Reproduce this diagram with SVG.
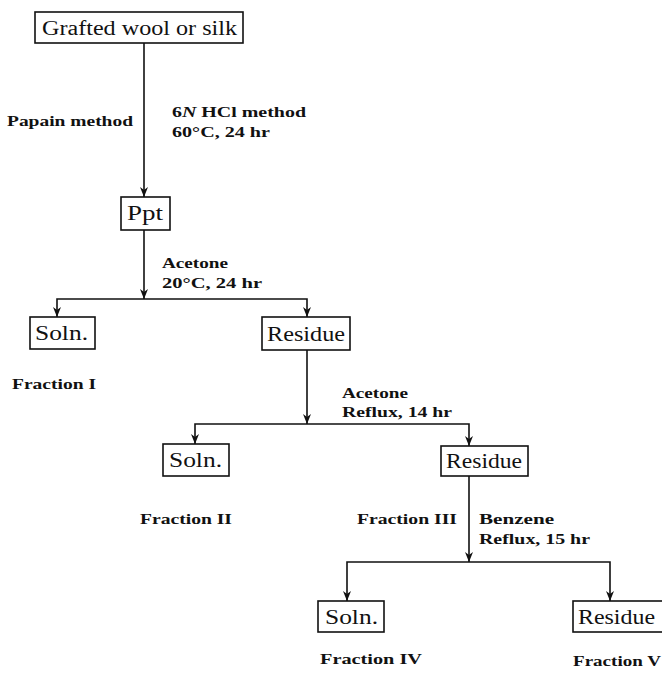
<svg xmlns="http://www.w3.org/2000/svg" width="662" height="679" viewBox="0 0 662 679">
<defs>
<marker id="ah" viewBox="0 0 10 10" refX="10" refY="5" markerWidth="10" markerHeight="10" markerUnits="userSpaceOnUse" orient="auto">
<path d="M0,1 L10,5 L0,9 L3,5 Z" fill="#111"/>
</marker>
<style>
.box{fill:#fff;stroke:#111;stroke-width:1.6}
.bt{font-family:"Liberation Serif","Times New Roman",serif;font-size:20px;fill:#111}
.lb{font-family:"Liberation Serif","Times New Roman",serif;font-size:14px;font-weight:bold;fill:#111}
.ln{fill:none;stroke:#111;stroke-width:1.6}
.ar{fill:none;stroke:#111;stroke-width:1.6;marker-end:url(#ah)}
</style>
</defs>
<rect width="662" height="679" fill="#fff"/>
<g id="connectors">
<line class="ar" x1="144" y1="43" x2="144" y2="197"/>
<line class="ar" x1="144" y1="230" x2="144" y2="299"/>
<polyline class="ar" points="144,299 57,299 57,317"/>
<polyline class="ar" points="144,299 307,299 307,317"/>
<line class="ar" x1="307" y1="350" x2="307" y2="424"/>
<polyline class="ar" points="307,424 195,424 195,444"/>
<polyline class="ar" points="307,424 469,424 469,446"/>
<line class="ar" x1="469" y1="476" x2="469" y2="562"/>
<polyline class="ar" points="469,562 347,562 347,601"/>
<polyline class="ar" points="469,562 610,562 610,601"/>
</g>
<g id="n-start"><rect class="box" x="35" y="12" width="208" height="31"/><text class="bt" x="42" y="35" textLength="195" lengthAdjust="spacingAndGlyphs">Grafted wool or silk</text></g>
<g id="n-ppt"><rect class="box" x="121" y="197" width="49" height="33"/><text class="bt" x="127" y="220" textLength="36" lengthAdjust="spacingAndGlyphs">Ppt</text></g>
<g id="n-soln1"><rect class="box" x="30" y="317" width="65" height="32"/><text class="bt" x="35" y="340" textLength="53" lengthAdjust="spacingAndGlyphs">Soln.</text></g>
<g id="n-res1"><rect class="box" x="262" y="317" width="88" height="33"/><text class="bt" x="267" y="341" textLength="78" lengthAdjust="spacingAndGlyphs">Residue</text></g>
<g id="n-soln2"><rect class="box" x="163" y="444" width="66" height="32"/><text class="bt" x="169" y="467" textLength="53" lengthAdjust="spacingAndGlyphs">Soln.</text></g>
<g id="n-res2"><rect class="box" x="441" y="446" width="87" height="30"/><text class="bt" x="446" y="468" textLength="76" lengthAdjust="spacingAndGlyphs">Residue</text></g>
<g id="n-soln3"><rect class="box" x="318" y="601" width="66" height="31"/><text class="bt" x="325" y="624" textLength="53" lengthAdjust="spacingAndGlyphs">Soln.</text></g>
<g id="n-res3"><rect class="box" x="573" y="601" width="95" height="31"/><text class="bt" x="578" y="624" textLength="77" lengthAdjust="spacingAndGlyphs">Residue</text></g>
<g id="labels">
<text class="lb" x="7" y="126" textLength="126" lengthAdjust="spacingAndGlyphs">Papain method</text>
<text class="lb" x="172" y="117" textLength="134" lengthAdjust="spacingAndGlyphs">6<tspan font-style="italic">N</tspan> HCl method</text>
<text class="lb" x="172" y="137" textLength="98" lengthAdjust="spacingAndGlyphs">60°C, 24 hr</text>
<text class="lb" x="162" y="268" textLength="66" lengthAdjust="spacingAndGlyphs">Acetone</text>
<text class="lb" x="162" y="288" textLength="100" lengthAdjust="spacingAndGlyphs">20°C, 24 hr</text>
<text class="lb" x="12" y="389" textLength="84" lengthAdjust="spacingAndGlyphs">Fraction I</text>
<text class="lb" x="342" y="398" textLength="66" lengthAdjust="spacingAndGlyphs">Acetone</text>
<text class="lb" x="342" y="417" textLength="110" lengthAdjust="spacingAndGlyphs">Reflux, 14 hr</text>
<text class="lb" x="140" y="524" textLength="92" lengthAdjust="spacingAndGlyphs">Fraction II</text>
<text class="lb" x="357" y="524" textLength="100" lengthAdjust="spacingAndGlyphs">Fraction III</text>
<text class="lb" x="479" y="524" textLength="75" lengthAdjust="spacingAndGlyphs">Benzene</text>
<text class="lb" x="479" y="544" textLength="111" lengthAdjust="spacingAndGlyphs">Reflux, 15 hr</text>
<text class="lb" x="320" y="664" textLength="102" lengthAdjust="spacingAndGlyphs">Fraction IV</text>
<text class="lb" x="573" y="666" textLength="88" lengthAdjust="spacingAndGlyphs">Fraction V</text>
</g>
</svg>
